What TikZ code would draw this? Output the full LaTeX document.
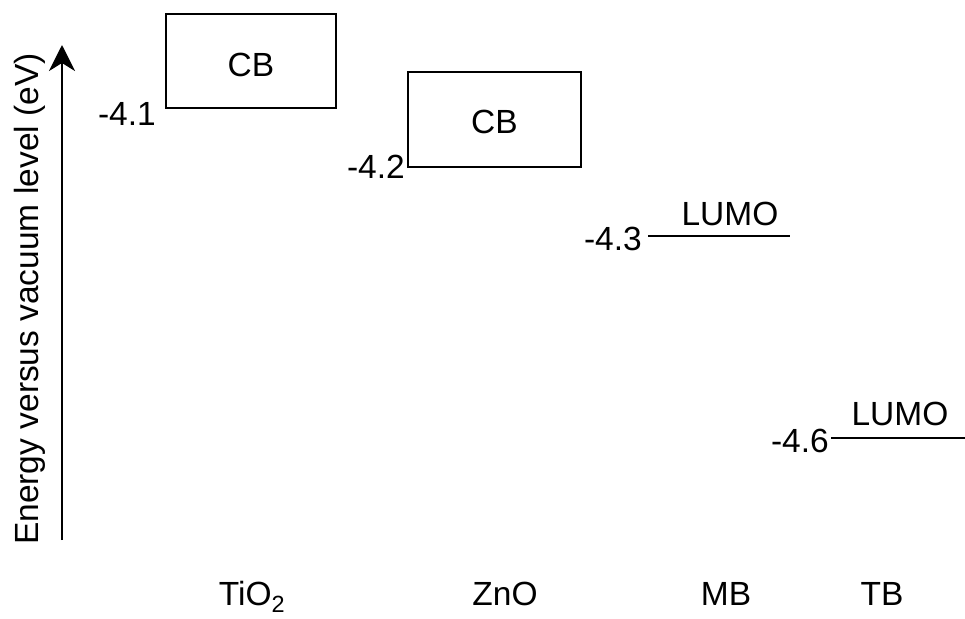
\documentclass[tikz,border=0pt]{standalone}
\usepackage{fontspec}
\setmainfont{Liberation Sans}
\usetikzlibrary{arrows.meta}

\tikzset{
  lbl/.style={inner sep=0pt, font=\fontsize{33.5}{38}\selectfont},
  band/.style={draw, line width=2.6pt, inner sep=0pt},
  level/.style={line width=2.6pt},
  axis/.style={line width=2.6pt, -{Stealth[length=26pt, width=26pt, inset=8pt]}}
}

\begin{document}
\begin{tikzpicture}[x=1pt, y=-1pt]
  \useasboundingbox (0,0) rectangle (965,618);

  % energy axis
  \coordinate (axbot) at (62,540);
  \coordinate (axtop) at (62,45);
  \draw[axis] (axbot) -- (axtop);
  \node[lbl, rotate=90, anchor=base] (axlbl) at (38,299) {Energy versus vacuum level (eV)};

  % TiO2 conduction band
  \node[band, minimum width=170pt, minimum height=94pt] (tio2cb) at (251,61) {};
  \node[lbl] (tio2cbt) at (251,65) {CB};
  \node[lbl, anchor=base east] (tio2e) at (156,125) {-4.1};

  % ZnO conduction band
  \node[band, minimum width=173pt, minimum height=95pt] (znocb) at (494.5,119.5) {};
  \node[lbl] (znocbt) at (494.5,122) {CB};
  \node[lbl, anchor=base east] (znoe) at (405,178) {-4.2};

  % MB LUMO
  \coordinate (mbl) at (648,236);
  \coordinate (mbr) at (790,236);
  \draw[level] (mbl) -- (mbr);
  \node[lbl, anchor=base] (mblumo) at (730,225) {LUMO};
  \node[lbl, anchor=base east] (mbe) at (642,250) {-4.3};

  % TB LUMO
  \coordinate (tbl) at (831,438);
  \coordinate (tbr) at (965,438);
  \draw[level] (tbl) -- (tbr);
  \node[lbl, anchor=base] (tblumo) at (900,425) {LUMO};
  \node[lbl, anchor=base east] (tbe) at (829,452) {-4.6};

  % material names
  \node[lbl, anchor=base] (tio2) at (252,605) {TiO\textsubscript{2}};
  \node[lbl, anchor=base] (zno) at (505,605) {ZnO};
  \node[lbl, anchor=base] (mb) at (726,605) {MB};
  \node[lbl, anchor=base] (tb) at (882,605) {TB};
\end{tikzpicture}
\end{document}
